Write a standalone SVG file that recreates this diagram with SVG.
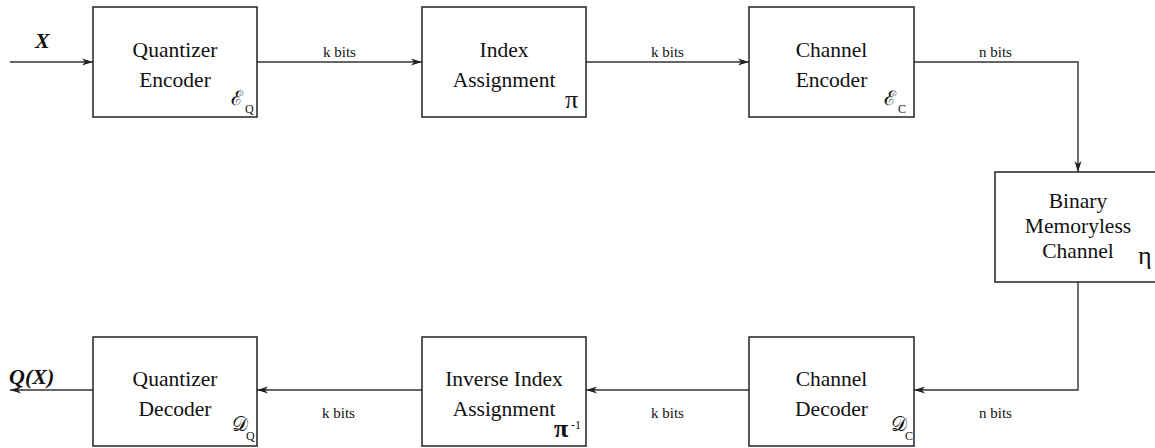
<svg xmlns="http://www.w3.org/2000/svg" width="1155" height="448" viewBox="0 0 1155 448">
<style>
.box{fill:#fff;stroke:#222;stroke-width:1.5}
.t{font-family:"Liberation Serif","Times New Roman",serif;font-size:21.5px;fill:#111;text-anchor:middle}
.lbl{font-family:"Liberation Serif","Times New Roman",serif;font-size:15px;fill:#111;text-anchor:middle}
.big{font-family:"Liberation Serif","Times New Roman",serif;font-size:22px;font-weight:bold;font-style:italic;fill:#111}
.sym{font-family:"DejaVu Serif","Liberation Serif",serif;fill:#111}
.pi{font-family:"Liberation Serif","Times New Roman",serif;fill:#111}
.sub{font-family:"Liberation Serif",serif;font-size:12px;fill:#111}
.c{fill:none;stroke:#333;stroke-width:1.4}
</style>
<defs>
<marker id="ah" markerWidth="12" markerHeight="10" refX="11" refY="5" orient="auto" markerUnits="userSpaceOnUse">
<path d="M0,1.5 L11,5 L0,8.5 L3,5 Z" fill="#222"/>
</marker>
</defs>
<g id="connectors">
<line class="c" x1="10" y1="62" x2="93" y2="62" marker-end="url(#ah)"/>
<line class="c" x1="257" y1="62" x2="422" y2="62" marker-end="url(#ah)"/>
<line class="c" x1="586" y1="62" x2="749" y2="62" marker-end="url(#ah)"/>
<polyline class="c" points="914,62 1078,62 1078,172" marker-end="url(#ah)"/>
<polyline class="c" points="1078,282 1078,390 914,390" marker-end="url(#ah)"/>
<line class="c" x1="749" y1="390" x2="586" y2="390" marker-end="url(#ah)"/>
<line class="c" x1="422" y1="390" x2="257" y2="390" marker-end="url(#ah)"/>
<line class="c" x1="93" y1="390" x2="10" y2="390" marker-end="url(#ah)"/>
<text class="big" x="35" y="48">X</text>
<text class="big" x="9" y="384">Q(X)</text>
<text class="lbl" x="339.5" y="57">k bits</text>
<text class="lbl" x="667.5" y="57">k bits</text>
<text class="lbl" x="995.5" y="57">n bits</text>
<text class="lbl" x="995.5" y="418">n bits</text>
<text class="lbl" x="667.5" y="418">k bits</text>
<text class="lbl" x="338.5" y="418">k bits</text>
</g>
<g id="quantizer-encoder">
<rect class="box" x="93" y="7" width="164" height="110"/>
<text class="t" x="175" y="57">Quantizer</text>
<text class="t" x="175" y="87">Encoder</text>
<text class="sym" x="231" y="105" font-size="20">ℰ</text>
<text class="sub" x="245" y="113">Q</text>
</g>
<g id="index-assignment">
<rect class="box" x="422" y="7" width="164" height="110"/>
<text class="t" x="504" y="57">Index</text>
<text class="t" x="504" y="87">Assignment</text>
<text class="pi" x="565" y="108" font-size="26">π</text>
</g>
<g id="channel-encoder">
<rect class="box" x="749" y="7" width="165" height="110"/>
<text class="t" x="831.5" y="57">Channel</text>
<text class="t" x="831.5" y="87">Encoder</text>
<text class="sym" x="884" y="105" font-size="20">ℰ</text>
<text class="sub" x="898" y="113">C</text>
</g>
<g id="binary-memoryless-channel">
<rect class="box" x="995" y="172" width="166" height="110"/>
<text class="t" x="1078" y="208">Binary</text>
<text class="t" x="1078" y="233">Memoryless</text>
<text class="t" x="1078" y="258">Channel</text>
<text class="pi" x="1138" y="264" font-size="26">η</text>
</g>
<g id="channel-decoder">
<rect class="box" x="749" y="337" width="165" height="109"/>
<text class="t" x="831.5" y="386">Channel</text>
<text class="t" x="831.5" y="416">Decoder</text>
<text class="sym" x="891" y="431" font-size="20">𝒟</text>
<text class="sub" x="905" y="440">C</text>
</g>
<g id="inverse-index-assignment">
<rect class="box" x="422" y="337" width="164" height="109"/>
<text class="t" x="504" y="386">Inverse Index</text>
<text class="t" x="504" y="416">Assignment</text>
<text class="pi" x="554" y="437" font-size="26" font-weight="bold">π</text>
<text class="sub" x="571" y="429" font-size="8">-1</text>
</g>
<g id="quantizer-decoder">
<rect class="box" x="93" y="337" width="164" height="109"/>
<text class="t" x="175" y="386">Quantizer</text>
<text class="t" x="175" y="416">Decoder</text>
<text class="sym" x="232" y="431" font-size="20">𝒟</text>
<text class="sub" x="246" y="440">Q</text>
</g>
</svg>
